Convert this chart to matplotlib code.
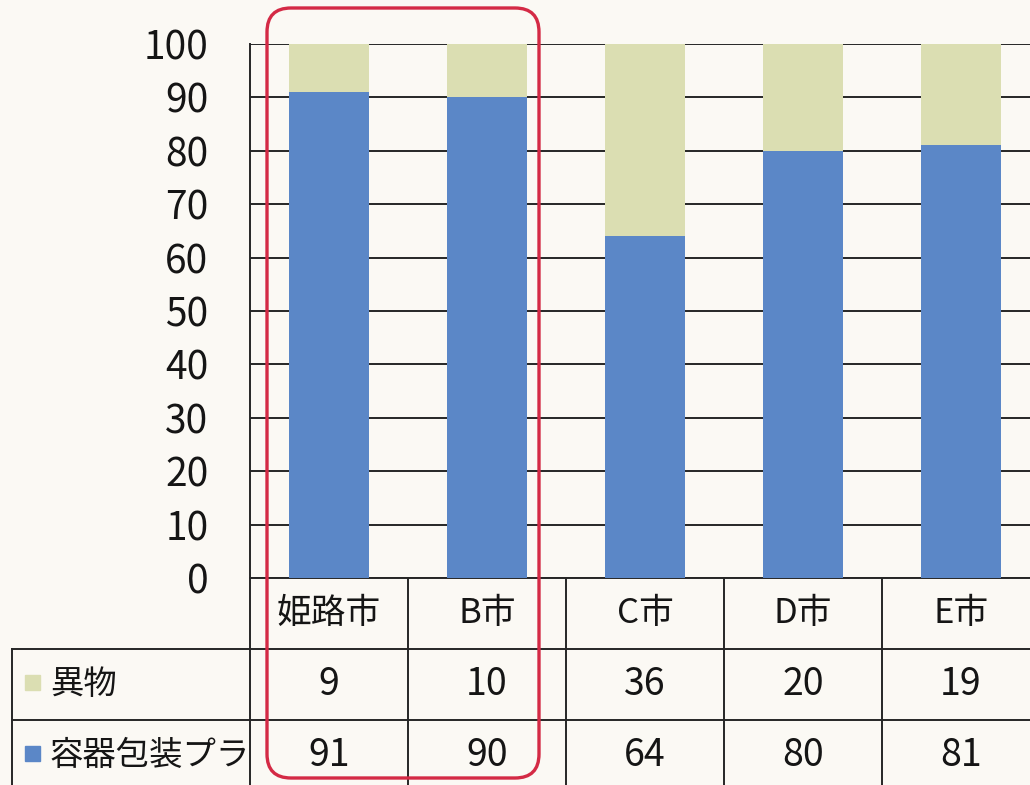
import matplotlib
matplotlib.use("Agg")
import matplotlib.pyplot as plt
import numpy as np
from matplotlib.patches import FancyBboxPatch, Rectangle
from matplotlib.transforms import IdentityTransform

plt.rcParams["font.family"] = ["Noto Sans CJK JP", "DejaVu Sans"]

CITIES = ["姫路市", "B市", "C市", "D市", "E市"]
SERIES_NAMES = ["異物", "容器包装プラ"]
FOREIGN = [9, 10, 36, 20, 19]
PLASTIC = [91, 90, 64, 80, 81]
Y_TICKS = [0, 10, 20, 30, 40, 50, 60, 70, 80, 90, 100]

BLUE = "#5B87C7"
GREEN = "#DBDEB2"
BG = "#FBF9F4"
LINE = "#262626"
RED = "#D42A45"
TXT = "#151515"

W, H = 1030, 785
# pixel layout of the scan
AX_L, AX_R, AX_T, AX_B = 250, 1040, 44, 578
TAB_L, TAB_B = 12, 791
CAT_W = (AX_R - AX_L) / len(CITIES)


def main():
    fig = plt.figure(figsize=(W / 100, H / 100), dpi=100, facecolor=BG)

    ax = fig.add_axes([AX_L / W, (H - AX_B) / H, (AX_R - AX_L) / W, (AX_B - AX_T) / H])
    ax.set_facecolor(BG)
    x = np.arange(len(CITIES))
    ax.bar(x, PLASTIC, width=0.51, color=BLUE, zorder=3)
    ax.bar(x, FOREIGN, width=0.51, bottom=PLASTIC, color=GREEN, zorder=3)
    ax.set_xlim(-0.5, len(CITIES) - 0.5)
    ax.set_ylim(0, 100)
    ax.set_yticks(Y_TICKS)
    ax.set_yticklabels([str(t) for t in Y_TICKS], fontsize=28, color=TXT)
    ax.tick_params(axis="y", length=0, pad=30)
    ax.set_xticks([])
    ax.yaxis.grid(True, color=LINE, linewidth=1.4, zorder=1)
    ax.set_axisbelow(True)
    for side in ["top", "right"]:
        ax.spines[side].set_visible(False)
    for side in ["left", "bottom"]:
        ax.spines[side].set_color(LINE)
        ax.spines[side].set_linewidth(1.4)

    # data table under the chart, category i centred under bar i
    x_left = -0.5 - (AX_L - TAB_L) / CAT_W
    tax = fig.add_axes([TAB_L / W, (H - TAB_B) / H, (AX_R - TAB_L) / W, (TAB_B - AX_B) / H])
    tax.set_xlim(x_left, len(CITIES) - 0.5)
    tax.set_ylim(3, 0)
    tax.axis("off")
    tax.patch.set_alpha(0)

    kw = dict(color=LINE, linewidth=1.4, clip_on=False)
    for b in np.arange(len(CITIES) + 1) - 0.5:
        tax.plot([b, b], [0, 3], **kw)
    tax.plot([x_left, len(CITIES) - 0.5], [1, 1], **kw)
    tax.plot([x_left, len(CITIES) - 0.5], [2, 2], **kw)
    tax.plot([x_left, x_left], [1, 3], **kw)

    for i, city in enumerate(CITIES):
        tax.text(i, 0.5, city, fontsize=25, ha="center", va="center", color=TXT)
        tax.text(i, 1.5, str(FOREIGN[i]), fontsize=27, ha="center", va="center", color=TXT)
        tax.text(i, 2.5, str(PLASTIC[i]), fontsize=27, ha="center", va="center", color=TXT)

    for row, (name, col) in enumerate(zip(SERIES_NAMES, [GREEN, BLUE])):
        tax.add_patch(Rectangle((x_left + 0.08, row + 1.36), 0.1, 0.22, color=col, clip_on=False))
        tax.text(x_left + 0.24, row + 1.5, name, fontsize=24, ha="left", va="center", color=TXT)

    # red highlight box drawn over the scan
    box = FancyBboxPatch((267, 7), 272, 770,
                         boxstyle="round,pad=0,rounding_size=24",
                         transform=IdentityTransform(), fill=False,
                         edgecolor=RED, linewidth=2.4, zorder=10)
    fig.patches.append(box)

    fig.savefig("out.png", dpi=100, facecolor=BG)


if __name__ == "__main__":
    main()
